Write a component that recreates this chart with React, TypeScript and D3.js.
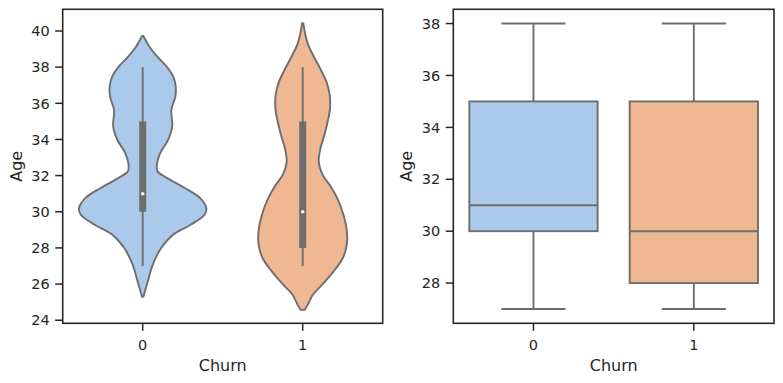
import React from "react";
import * as d3 from "d3";

const categories = ["0", "1"];

// Violin outlines: age samples and relative density (1 = widest)
const violinAges0 = [39.72, 39.13, 38.58, 38.03, 37.47, 36.92, 36.37, 35.63, 34.71, 33.97, 33.24, 32.49, 32.22, 31.85, 31.3, 30.75, 30.19, 29.82, 29.27, 28.72, 27.98, 27.06, 26.13, 25.3];
const violinDens0 = [0.01, 0.105, 0.227, 0.375, 0.477, 0.516, 0.51, 0.448, 0.461, 0.395, 0.273, 0.219, 0.234, 0.39, 0.664, 0.898, 0.995, 0.964, 0.742, 0.469, 0.286, 0.156, 0.078, 0.01];
const violinAges1 = [40.43, 39.78, 39.23, 38.67, 37.94, 37.2, 36.46, 35.72, 34.98, 34.25, 33.51, 32.77, 32.04, 31.48, 30.75, 29.82, 28.9, 28.16, 27.43, 26.69, 25.95, 25.4, 24.85, 24.57];
const violinDens1 = [0.01, 0.042, 0.086, 0.161, 0.27, 0.37, 0.422, 0.427, 0.39, 0.339, 0.278, 0.25, 0.3125, 0.422, 0.539, 0.638, 0.691, 0.6875, 0.625, 0.48, 0.3, 0.156, 0.078, 0.03];

// Box statistics per category
const whiskerLow = [27, 27];
const q1 = [30, 28];
const median = [31, 30];
const q3 = [35, 35];
const whiskerHigh = [38, 38];

const violinTicks = [24, 26, 28, 30, 32, 34, 36, 38, 40];
const boxTicks = [28, 30, 32, 34, 36, 38];

const fills = ["#abc9ea", "#efb792"];
const lineGray = "#6e6e6e";
const ink = "#262626";
const FONT = "DejaVu Sans, sans-serif";

const W = 783;
const H = 383;
const TOP = 9.3;
const BOTTOM = 323.3;
const TICK_FS = 14.5;
const LABEL_FS = 16;
const TICK_LEN = 7.5;

function Frame({ x0, x1, yScale, ticks, xScale, labelX }: any) {
  return (
    <g>
      {ticks.map((t: number) => (
        <g key={"y" + t}>
          <line x1={x0 - TICK_LEN} x2={x0} y1={yScale(t)} y2={yScale(t)} stroke={ink} strokeWidth={1.5} />
          <text x={x0 - 13} y={yScale(t)} dy="0.36em" textAnchor="end" fontSize={TICK_FS} fill={ink} fontFamily={FONT}>
            {t}
          </text>
        </g>
      ))}
      {categories.map((c, i) => (
        <g key={"x" + c}>
          <line x1={xScale(i)} x2={xScale(i)} y1={BOTTOM} y2={BOTTOM + TICK_LEN} stroke={ink} strokeWidth={1.5} />
          <text x={xScale(i)} y={349.5} textAnchor="middle" fontSize={TICK_FS} fill={ink} fontFamily={FONT}>
            {c}
          </text>
        </g>
      ))}
      <rect x={x0} y={TOP} width={x1 - x0} height={BOTTOM - TOP} fill="none" stroke={ink} strokeWidth={1.6} />
      <text x={(x0 + x1) / 2} y={371} textAnchor="middle" fontSize={LABEL_FS} fill={ink} fontFamily={FONT}>
        Churn
      </text>
      <text transform={`translate(${labelX},${(TOP + BOTTOM) / 2}) rotate(-90)`} textAnchor="middle" fontSize={LABEL_FS} fill={ink} fontFamily={FONT}>
        Age
      </text>
    </g>
  );
}

export default function App() {
  // Left: violin
  const lx0 = 62.7, lx1 = 382.7;
  const lxScale = d3.scaleLinear().domain([-0.5, 1.5]).range([lx0, lx1]);
  const lyScale = d3.scaleLinear().domain([23.83, 41.2]).range([BOTTOM, TOP]);
  const band = lxScale(1) - lxScale(0);
  const halfMax = band * 0.4;

  const violins = [
    { ages: violinAges0, dens: violinDens0 },
    { ages: violinAges1, dens: violinDens1 },
  ];

  // Right: box
  const rx0 = 453.3, rx1 = 774;
  const rxScale = d3.scaleLinear().domain([-0.5, 1.5]).range([rx0, rx1]);
  const ryScale = d3.scaleLinear().domain([26.45, 38.55]).range([BOTTOM, TOP]);
  const rband = rxScale(1) - rxScale(0);
  const boxW = rband * 0.8;
  const capW = boxW * 0.5;

  return (
    <svg width={W} height={H} style={{ position: "absolute", left: 0, top: 0, background: "#fff" }}>
      <rect x={0} y={0} width={W} height={H} fill="#fff" />
      {violins.map((v, i) => {
        const cx = lxScale(i);
        const pts = v.ages.map((a, k) => ({ a, d: v.dens[k] }));
        const area = d3
          .area<any>()
          .y((p) => lyScale(p.a))
          .x0((p) => cx - p.d * halfMax)
          .x1((p) => cx + p.d * halfMax)
          .curve(d3.curveCatmullRom.alpha(0.5));
        return (
          <g key={"v" + i}>
            <path d={area(pts) || ""} fill={fills[i]} stroke={lineGray} strokeWidth={1.9} strokeLinejoin="round" />
            <line x1={cx} x2={cx} y1={lyScale(whiskerLow[i])} y2={lyScale(whiskerHigh[i])} stroke={lineGray} strokeWidth={1.9} />
            <line x1={cx} x2={cx} y1={lyScale(q1[i])} y2={lyScale(q3[i])} stroke={lineGray} strokeWidth={7} />
            <circle cx={cx} cy={lyScale(median[i])} r={1.8} fill="#fff" />
          </g>
        );
      })}
      <Frame x0={lx0} x1={lx1} yScale={lyScale} ticks={violinTicks} xScale={lxScale} labelX={22} />

      {categories.map((c, i) => {
        const cx = rxScale(i);
        return (
          <g key={"b" + c}>
            <line x1={cx} x2={cx} y1={ryScale(q3[i])} y2={ryScale(whiskerHigh[i])} stroke={lineGray} strokeWidth={1.9} />
            <line x1={cx} x2={cx} y1={ryScale(q1[i])} y2={ryScale(whiskerLow[i])} stroke={lineGray} strokeWidth={1.9} />
            <line x1={cx - capW / 2} x2={cx + capW / 2} y1={ryScale(whiskerHigh[i])} y2={ryScale(whiskerHigh[i])} stroke={lineGray} strokeWidth={1.9} />
            <line x1={cx - capW / 2} x2={cx + capW / 2} y1={ryScale(whiskerLow[i])} y2={ryScale(whiskerLow[i])} stroke={lineGray} strokeWidth={1.9} />
            <rect x={cx - boxW / 2} y={ryScale(q3[i])} width={boxW} height={ryScale(q1[i]) - ryScale(q3[i])} fill={fills[i]} stroke={lineGray} strokeWidth={1.9} />
            <line x1={cx - boxW / 2} x2={cx + boxW / 2} y1={ryScale(median[i])} y2={ryScale(median[i])} stroke={lineGray} strokeWidth={1.9} />
          </g>
        );
      })}
      <Frame x0={rx0} x1={rx1} yScale={ryScale} ticks={boxTicks} xScale={rxScale} labelX={411.5} />
    </svg>
  );
}
